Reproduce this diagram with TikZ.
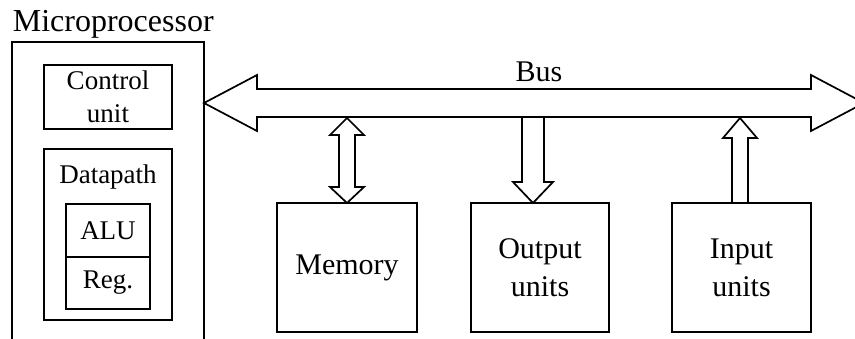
\documentclass[tikz,border=0pt]{standalone}
\usepackage{fontspec}
\setmainfont{Liberation Serif}
\usetikzlibrary{calc}

\begin{document}
\begin{tikzpicture}[x=1pt,y=-1pt,line width=1.7pt,
    unitbox/.style={draw,inner sep=0pt,outer sep=0pt,align=center,font=\fontsize{30}{38}\selectfont},
    cpubox/.style={draw,inner sep=0pt,outer sep=0pt,align=center,font=\fontsize{27}{33}\selectfont}]
        \useasboundingbox (0,0) rectangle (855,339);
        \clip (0,0) rectangle (855,339);
        % Microprocessor (open at the bottom)
        \node[anchor=base west,inner sep=0pt,font=\fontsize{32}{36}\selectfont] (cpulabel) at (12,32) {Microprocessor};
        \draw (12,345) -- (12,42) -- (204,42) -- (204,345);
        \coordinate (cpuport) at (204,103);
        % Control unit and datapath
        \node[cpubox,minimum width=128,minimum height=64] (ctrl) at (108,97) {Control\\unit};
        \node[cpubox,minimum width=128,minimum height=171] (dpath) at (108,234.5) {};
        \node[inner sep=0pt,font=\fontsize{27}{33}\selectfont] (dplabel) at (108,177) {Datapath};
        \node[cpubox,minimum width=84,minimum height=53] (alu) at (108,230.5) {ALU};
        \node[cpubox,minimum width=84,minimum height=52,anchor=north] (reg) at (alu.south) {Reg.};
        % Units
        \node[unitbox,minimum width=140,minimum height=129] (mem) at (347,267.5) {Memory};
        \node[unitbox,minimum width=138,minimum height=129] (outp) at (540,267.5) {Output\\units};
        \node[unitbox,minimum width=139,minimum height=129] (inp) at (741.5,267.5) {Input\\units};
        % Bus
        \draw[fill=white] (cpuport) -- ++(53,-28) -- ++(0,14) -- (811,89) -- ++(0,-14) -- (864,103)
            -- (811,131) -- ++(0,-14) -- (257,117) -- ++(0,14) -- cycle;
        \node[inner sep=0pt,font=\fontsize{30}{36}\selectfont] (buslabel) at (539,72) {Bus};
        % Memory <-> bus
        \draw (mem.north) -- ++(-17,-16) -- ++(9,0) -- ++(0,-52) -- ++(-9,0) -- ++(17,-17)
            -- ++(17,17) -- ++(-9,0) -- ++(0,52) -- ++(9,0) -- cycle;
        % Bus -> output units
        \draw ($(outp.north)+(-7,0)$) -- ++(-20,-21) -- ++(9,0) -- ++(0,-65) -- ++(22,0)
            -- ++(0,65) -- ++(9,0) -- cycle;
        % Input units -> bus
        \draw ($(inp.north)+(-1.5,0)$) -- ++(-8,0) -- ++(0,-65) -- ++(-9,0) -- ++(17,-20)
            -- ++(17,20) -- ++(-9,0) -- ++(0,65) -- cycle;
\end{tikzpicture}
\end{document}
